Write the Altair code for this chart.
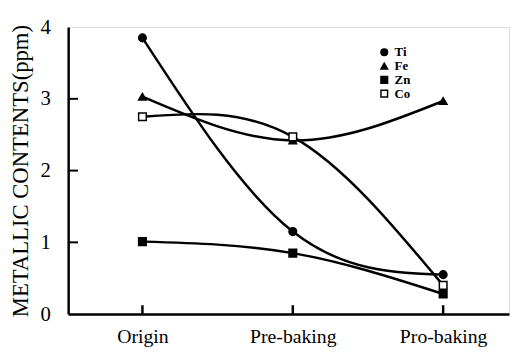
import altair as alt
import pandas as pd

stages = ["Origin", "Pre-baking", "Pro-baking"]
metals = ["Ti", "Fe", "Zn", "Co"]
ti = [3.85, 1.15, 0.55]
fe = [3.03, 2.42, 2.97]
zn = [1.01, 0.85, 0.28]
co = [2.75, 2.47, 0.40]
y_ticks = [0, 1, 2, 3, 4]

rows = []
for m, vals in zip(metals, [ti, fe, zn, co]):
    for s, v in zip(stages, vals):
        rows.append({"stage": s, "metal": m, "value": v})
df = pd.DataFrame(rows)

serif = "Liberation Serif"
xscale = alt.Scale(type="point", padding=0.466, align=0.53)
yscale = alt.Scale(domain=[0, 4], nice=False)

x_enc = alt.X("stage:N", sort=stages, scale=xscale,
              axis=alt.Axis(title=None, ticks=False, labelFont=serif, labelFontSize=20,
                            labelColor="black", labelPadding=13, domainColor="black",
                            domainWidth=2.5, labelAngle=0))
y_enc = alt.Y("value:Q", scale=yscale,
              axis=alt.Axis(title="METALLIC CONTENTS(ppm)", values=y_ticks, ticks=False,
                            grid=False, format="d", labelFont=serif, labelFontSize=21,
                            labelColor="black", labelPadding=18, titleFont=serif,
                            titleFontSize=23, titleFontWeight="normal", titleColor="black",
                            titlePadding=8, domainColor="black", domainWidth=2.5))

base = alt.Chart(df)

lines = base.mark_line(interpolate="natural", color="black", strokeWidth=2.5).encode(
    x=x_enc, y=y_enc, detail="metal:N")

points = base.mark_point(size=60, strokeWidth=1.5, opacity=1).encode(
    x=x_enc, y=y_enc,
    shape=alt.Shape("metal:N", sort=metals,
                    scale=alt.Scale(domain=metals, range=["circle", "triangle-up", "square", "square"]),
                    legend=alt.Legend(title=None, orient="none", legendX=314, legendY=19,
                                      padding=0, labelFont=serif, labelFontWeight="bold",
                                      labelFontSize=13, labelColor="black", symbolSize=45,
                                      rowPadding=-1, labelOffset=4, symbolStrokeWidth=1.5)),
    fill=alt.Fill("metal:N", sort=metals,
                  scale=alt.Scale(domain=metals, range=["black", "black", "black", "white"]),
                  legend=None),
    stroke=alt.value("black"))

ytick_df = pd.DataFrame({"v": y_ticks[1:4]})
yticks = alt.Chart(ytick_df).mark_rule(color="black", strokeWidth=2).encode(
    y=alt.Y("v:Q", scale=yscale), x=alt.value(0), x2=alt.value(10))

xtick_df = pd.DataFrame({"stage": stages})
xticks = alt.Chart(xtick_df).mark_rule(color="black", strokeWidth=2.5).encode(
    x=alt.X("stage:N", sort=stages, scale=xscale),
    y=alt.value(291), y2=alt.value(282))

chart = alt.layer(lines, points, yticks, xticks).properties(
    width=447, height=291,
    autosize=alt.AutoSizeParams(type="none"),
    padding={"left": 61, "top": 17, "right": 2, "bottom": 31},
).configure_view(stroke="black", strokeWidth=2.5).configure(background="white")

chart.save("out.html", embed_options={"renderer": "svg", "actions": False})
